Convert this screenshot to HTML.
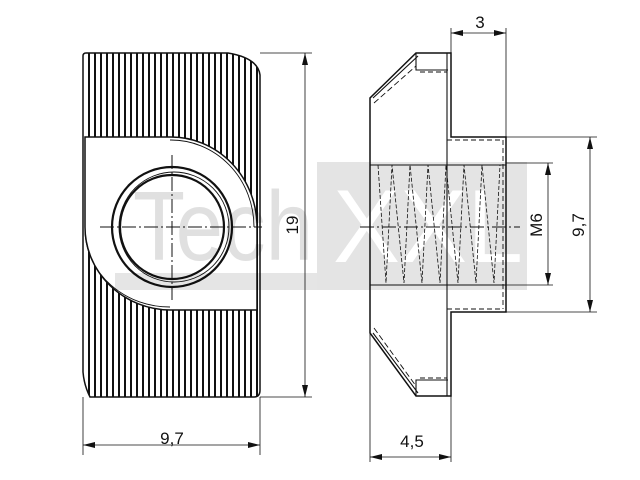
<!DOCTYPE html>
<html><head><style>html,body{margin:0;padding:0;background:#fff}svg{display:block}</style></head><body>
<svg width="640" height="480" viewBox="0 0 640 480" xmlns="http://www.w3.org/2000/svg" font-family="Liberation Sans, sans-serif">
<defs>
<clipPath id="outer"><path d="M86,53 H228 Q258,58 260,75 V390 Q260,397 254,397 H90 Q84,385 83,372 V56 Q83,53 86,53 Z"/></clipPath>
</defs>
<rect x="317" y="162" width="210" height="128" fill="#e4e4e4"/>
<text x="333" y="262" font-size="104" fill="#fff" textLength="190" lengthAdjust="spacingAndGlyphs">XXL</text>

<g clip-path="url(#outer)" stroke="#111" stroke-width="2">
<path d="M89,53V397M95,53V397M101,53V397M107,53V397M113,53V397M119,53V397M125,53V397M131,53V397M137,53V397M143,53V397M149,53V397M155,53V397M161,53V397M167,53V397M173,53V397M179,53V397M185,53V397M191,53V397M197,53V397M203,53V397M209,53V397M215,53V397M221,53V397M227,53V397M233,53V397M239,53V397M245,53V397M251,53V397M257,53V397"/>
</g>
<path d="M85,137 H170 A86,90 0 0 1 257,227 V310 H170 A86,83 0 0 1 85,227 Z" fill="#fff" stroke="#111" stroke-width="1.5"/>
<path d="M170,140 A83,87 0 0 1 254,227 M85,232 A85,78 0 0 0 170,307" fill="none" stroke="#111" stroke-width="0.9"/>
<path d="M86,53 H228 Q258,58 260,75 V390 Q260,397 254,397 H90 Q84,385 83,372 V56 Q83,53 86,53 Z" fill="none" stroke="#111" stroke-width="1.5"/>
<circle cx="172" cy="227" r="60" fill="none" stroke="#111" stroke-width="2.2"/>
<circle cx="172" cy="227" r="52" fill="none" stroke="#111" stroke-width="2.2"/>
<circle cx="174" cy="227" r="55" fill="none" stroke="#111" stroke-width="0.9"/>
<path d="M100,227 H262 M172,155 V300" stroke="#111" stroke-width="1" stroke-dasharray="14,3,2,3"/>

<text x="133" y="260" font-size="98" fill="#000" fill-opacity="0.12" textLength="180" lengthAdjust="spacingAndGlyphs">Tech</text>
<rect x="115" y="273" width="202" height="17" fill="#000" fill-opacity="0.1"/>

<g fill="none" stroke="#111" stroke-width="1.5">
<path d="M416,53 H451 V137 H506 V312 H451 V396 H416 L370,333 V98 Z"/>
<path d="M373,98 L418,56 M373,333 L418,393 M416,53 V70 H448 M416,396 V380 H448 M447,53 V396" stroke-width="1.1"/>
<path d="M374,103 L416,66 M374,328 L416,386" stroke-dasharray="6,3" stroke-width="0.9"/>
<path d="M420,72 H447 M420,378 H447 M447,140 H503 M447,309 H503 M503,140V309" stroke-dasharray="5,3" stroke-width="0.9"/>
<path d="M370,165 H506 M370,285 H506" stroke-width="0.9"/>
<path d="M378,165 L386,283 L392,165 L404,283 L410,165 L422,283 L428,165 L440,283 L446,165 L458,283 L464,165 L476,283 L482,165 L494,283 L500,165" stroke-dasharray="4,2" stroke-width="0.8"/>
<path d="M360,227 H520" stroke-dasharray="14,3,2,3" stroke-width="0.9"/>
</g>

<g stroke="#111" stroke-width="0.8" fill="none">
<path d="M260,53 H312 M260,397 H312 M305,53 V397"/>
<path d="M83,397 V455 M260,397 V455 M83,445 H260"/>
<path d="M370,333 V462 M451,396 V462 M370,457 H451"/>
<path d="M451,53 V28 M506,137 V28 M451,33 H506"/>
<path d="M506,137 H597 M506,312 H597 M590,137 V312"/>
<path d="M506,163 H553 M506,285 H553 M548,163 V285"/>
</g>
<g fill="#111">
<path d="M305,53 l-3,12 h6z M305,397 l-3,-12 h6z"/>
<path d="M83,445 l12,-3 v6z M260,445 l-12,-3 v6z"/>
<path d="M370,457 l12,-3 v6z M451,457 l-12,-3 v6z"/>
<path d="M451,33 l12,-3 v6z M506,33 l-12,-3 v6z"/>
<path d="M590,137 l-3,12 h6z M590,312 l-3,-12 h6z"/>
<path d="M548,163 l-3,12 h6z M548,285 l-3,-12 h6z"/>
</g>
<g font-size="17" fill="#111" text-anchor="middle">
<text x="172" y="444">9,7</text>
<text x="412" y="447">4,5</text>
<text x="480" y="28">3</text>
<text transform="translate(298,225) rotate(-90)">19</text>
<text transform="translate(584,225) rotate(-90)">9,7</text>
<text transform="translate(542,225) rotate(-90)">M6</text>
</g>
</svg>
</body></html>
